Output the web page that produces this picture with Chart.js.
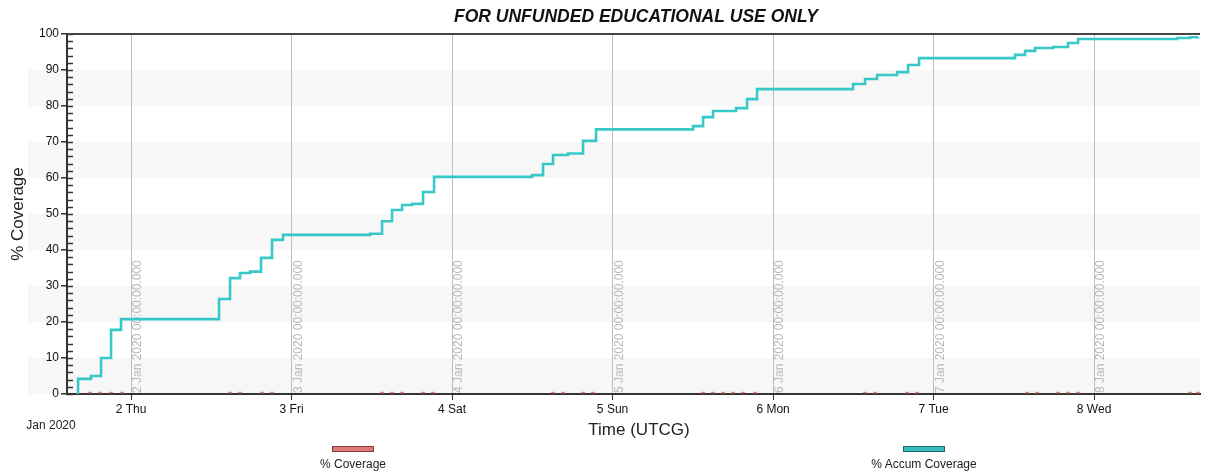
<!DOCTYPE html>
<html>
<head>
<meta charset="utf-8">
<script src="https://cdn.jsdelivr.net/npm/chart.js@4.4.1/dist/chart.umd.min.js"></script>
<style>
  html, body { margin: 0; padding: 0; background: #fff; }
  #wrap { position: relative; width: 1206px; height: 472px; font-family: "Liberation Sans", Arial, sans-serif; }
  canvas { position: absolute; left: 0; top: 0; }
  .lg { position: absolute; top: 446px; width: 160px; text-align: center; font-size: 12px; line-height: 14px; color: #222; }
  .lg .sw { width: 40px; height: 4px; margin: 0 auto 5px; border: 1px solid; }
</style>
</head>
<body>
<div id="wrap">
  <canvas id="c" width="1206" height="472"></canvas>
  <div class="lg" style="left:273px"><div class="sw" style="background:#dc7a7a;border-color:#8a3c3c"></div>% Coverage</div>
  <div class="lg" style="left:844px"><div class="sw" style="background:#36bcbc;border-color:#1a6a6a"></div>% Accum Coverage</div>
</div>
<script>
// Time axis in days of January 2020 (2.5 = 2 Jan 12:00 UTCG)
const dayTicks = [2, 3, 4, 5, 6, 7, 8];
const dayTickLabels = ['2 Thu', '3 Fri', '4 Sat', '5 Sun', '6 Mon', '7 Tue', '8 Wed'];
const dayLineLabels = [
  '2 Jan 2020 00:00:00.000', '3 Jan 2020 00:00:00.000', '4 Jan 2020 00:00:00.000',
  '5 Jan 2020 00:00:00.000', '6 Jan 2020 00:00:00.000', '7 Jan 2020 00:00:00.000',
  '8 Jan 2020 00:00:00.000'
];
const timeMin = 1.601;
const timeMax = 8.660;
const yTicks = [0, 10, 20, 30, 40, 50, 60, 70, 80, 90, 100];

// Accumulated coverage (%), stepping up at each access
const accumTimes = [
  1.6698, 1.6699, 1.7508, 1.8131, 1.8754, 1.9377,
  2.5483, 2.6168, 2.6791, 2.7414, 2.8100, 2.8785, 2.9470,
  3.4891, 3.5639, 3.6262, 3.6885, 3.7508, 3.8193, 3.8879,
  4.4984, 4.5670, 4.6293, 4.7227, 4.8162, 4.8972,
  5.5016, 5.5639, 5.6262, 5.7695, 5.8380, 5.9003,
  6.4984, 6.5732, 6.6480, 6.7726, 6.8411, 6.9097,
  7.5078, 7.5701, 7.6324, 7.7445, 7.8380, 7.9003,
  8.5171, 8.5981, 8.6480
];
const accumValues = [
  0, 4.2, 5.0, 10.0, 17.8, 20.8,
  26.4, 32.2, 33.6, 34.0, 37.8, 42.8, 44.2,
  44.5, 48.0, 51.1, 52.5, 52.8, 56.1, 60.3,
  60.8, 63.9, 66.4, 66.8, 70.3, 73.5,
  74.4, 76.9, 78.6, 79.4, 81.9, 84.7,
  86.1, 87.5, 88.6, 89.4, 91.4, 93.3,
  94.2, 95.3, 96.1, 96.4, 97.5, 98.6,
  98.9, 99.1, 99.2
];

// Instantaneous coverage (%) during each access
const coverageTimes = [
  1.7445, 1.8069, 1.8754, 1.9439,
  2.6168, 2.6791, 2.8162, 2.8785,
  3.5639, 3.6262, 3.6885, 3.8193, 3.8816,
  4.6293, 4.6916, 4.8162, 4.8785,
  5.5639, 5.6262, 5.6885, 5.7508, 5.8131, 5.8879,
  6.5732, 6.6355, 6.8349, 6.8972,
  7.5826, 7.6449, 7.7757, 7.8380, 7.9003,
  8.5981, 8.6480
];
const coverageValues = [
  0.4, 0.4, 0.4, 0.4,
  0.4, 0.4, 0.4, 0.4,
  0.4, 0.4, 0.4, 0.4, 0.4,
  0.4, 0.4, 0.4, 0.4,
  0.4, 0.4, 0.4, 0.4, 0.4, 0.4,
  0.4, 0.4, 0.4, 0.4,
  0.4, 0.4, 0.4, 0.4, 0.4,
  0.4, 0.4
];

const FONT = '"Liberation Sans", Arial, sans-serif';
const toPoints = (xs, ys) => xs.map((x, i) => ({ x: x, y: ys[i] }));

const decor = {
  id: 'decor',
  beforeDraw(chart) {
    const { ctx, chartArea: a, scales: { y } } = chart;
    ctx.save();
    ctx.fillStyle = '#fff';
    ctx.fillRect(0, 0, chart.width, chart.height);
    // alternating horizontal bands
    ctx.fillStyle = '#f7f7f7';
    for (let v = 0; v < 100; v += 20) {
      const top = y.getPixelForValue(v + 10), bot = y.getPixelForValue(v);
      ctx.fillRect(28, top, a.right - 28, bot - top);
    }
    ctx.restore();
  },
  beforeDatasetsDraw(chart) {
    const { ctx, chartArea: a, scales: { x, y } } = chart;
    ctx.save();
    // date stamps along the day lines
    ctx.font = '12px ' + FONT;
    ctx.fillStyle = '#b8b8b8';
    ctx.textAlign = 'left';
    ctx.textBaseline = 'top';
    dayTicks.forEach((d, i) => {
      const px = x.getPixelForValue(d);
      ctx.save();
      ctx.translate(px + 1, a.bottom - 1);
      ctx.rotate(-Math.PI / 2);
      ctx.fillText(dayLineLabels[i], 0, 0);
      ctx.restore();
    });
    // minor ticks on the inside of the value axis
    ctx.strokeStyle = '#333';
    ctx.lineWidth = 1.5;
    for (let v = 0; v <= 100; v += 2) {
      const py = Math.round(y.getPixelForValue(v)) + 0.5;
      ctx.beginPath();
      ctx.moveTo(a.left, py);
      ctx.lineTo(a.left + 6, py);
      ctx.stroke();
    }
    // top frame line
    ctx.strokeStyle = '#444';
    ctx.lineWidth = 2;
    ctx.beginPath();
    ctx.moveTo(a.left, a.top);
    ctx.lineTo(a.right, a.top);
    ctx.stroke();
    ctx.restore();
  },
  afterDraw(chart) {
    const { ctx, chartArea: a } = chart;
    ctx.save();
    ctx.fillStyle = '#111';
    ctx.textAlign = 'center';
    ctx.textBaseline = 'middle';
    ctx.font = 'italic bold 17.5px ' + FONT;
    ctx.fillText('FOR UNFUNDED EDUCATIONAL USE ONLY', 636, 17);
    ctx.fillStyle = '#222';
    ctx.font = '17px ' + FONT;
    ctx.fillText('Time (UTCG)', 639, 430);
    ctx.save();
    ctx.translate(18, (a.top + a.bottom) / 2);
    ctx.rotate(-Math.PI / 2);
    ctx.fillText('% Coverage', 0, 0);
    ctx.restore();
    ctx.font = '12px ' + FONT;
    ctx.fillText('Jan 2020', 51, 426);
    ctx.restore();
  }
};

new Chart(document.getElementById('c'), {
  type: 'line',
  data: {
    datasets: [
      {
        label: '% Accum Coverage',
        data: toPoints(accumTimes, accumValues),
        stepped: true,
        borderColor: '#38c8c8',
        borderWidth: 2.6,
        pointRadius: 0,
        fill: false,
        order: 1
      },
      {
        label: '% Coverage',
        data: toPoints(coverageTimes, coverageValues),
        showLine: false,
        pointStyle: 'line',
        pointRadius: 2,
        borderColor: '#e08080',
        borderWidth: 1.5,
        order: 2
      }
    ]
  },
  options: {
    responsive: false,
    animation: false,
    devicePixelRatio: 1,
    layout: { padding: { top: 34, right: 6, left: 0, bottom: 0 } },
    plugins: { legend: { display: false }, title: { display: false }, tooltip: { enabled: false } },
    scales: {
      x: {
        type: 'linear',
        min: timeMin,
        max: timeMax,
        afterBuildTicks: s => { s.ticks = dayTicks.map(v => ({ value: v })); },
        afterFit: s => { s.height = 78; },
        ticks: {
          color: '#111',
          font: { family: FONT, size: 12 },
          padding: 2,
          maxRotation: 0,
          callback: v => dayTickLabels[dayTicks.indexOf(v)]
        },
        grid: { color: '#bdbdbd', lineWidth: 1, tickColor: '#333', tickLength: 6, drawTicks: true },
        border: { color: '#333', width: 2 }
      },
      y: {
        min: 0,
        max: 100,
        afterBuildTicks: s => { s.ticks = yTicks.map(v => ({ value: v })); },
        afterFit: s => { s.width = 67; },
        ticks: {
          color: '#111',
          font: { family: FONT, size: 12 },
          padding: 2
        },
        grid: { drawOnChartArea: false, color: '#333', tickLength: 6, lineWidth: 1.5 },
        border: { color: '#333', width: 2 }
      }
    }
  },
  plugins: [decor]
});
</script>
</body>
</html>
